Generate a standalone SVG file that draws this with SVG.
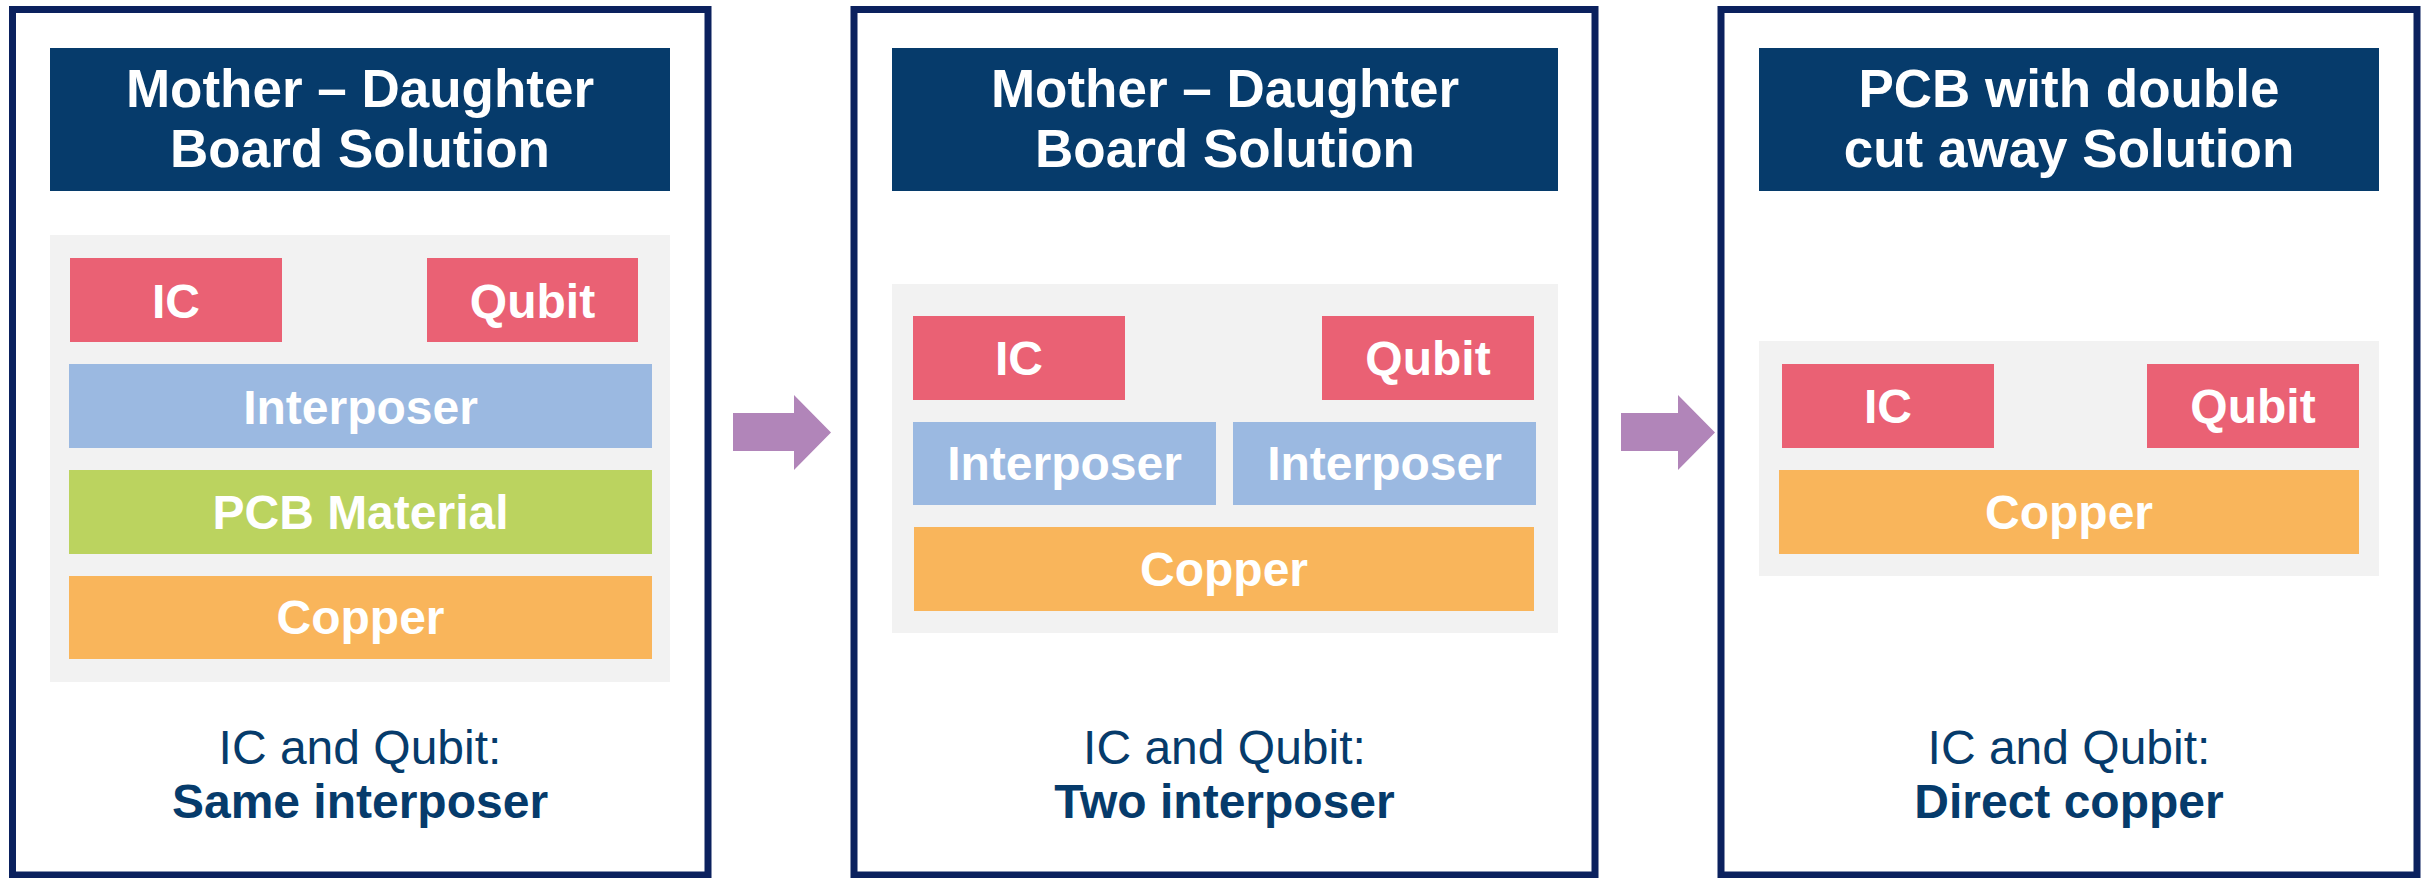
<svg xmlns="http://www.w3.org/2000/svg" width="2433" height="878" viewBox="0 0 2433 878">
  <style>
    .frame { fill: #ffffff; stroke: #0b215e; stroke-width: 7; }
    .title { fill: #063b6b; }
    .panel { fill: #f2f2f2; }
    .chip { fill: #ea6174; }
    .inter { fill: #9bb9e1; }
    .pcb { fill: #bbd35f; }
    .copper { fill: #f9b55b; }
    .arrow { fill: #b185b9; }
    text { font-family: "Liberation Sans", Arial, sans-serif; text-anchor: middle; }
    .ttl { fill: #ffffff; font-weight: bold; font-size: 53px; }
    .lbl { fill: #ffffff; font-weight: bold; font-size: 48px; }
    .cap { fill: #063b6b; font-size: 48px; }
    .capb { fill: #063b6b; font-size: 48px; font-weight: bold; }
  </style>

  <!-- Column 1: mother-daughter board, shared interposer -->
  <g id="col1">
    <rect class="frame" x="12.5" y="9.5" width="695.5" height="865.5"/>
    <g id="col1-title">
      <rect class="title" x="50" y="48" width="620" height="143"/>
      <text class="ttl" x="360" y="106.5">Mother – Daughter</text>
      <text class="ttl" x="360" y="166.5">Board Solution</text>
    </g>
    <rect class="panel" x="50" y="235" width="620" height="447"/>
    <g id="col1-ic">
      <rect class="chip" x="70" y="258" width="212" height="84"/>
      <text class="lbl" x="176" y="317.5">IC</text>
    </g>
    <g id="col1-qubit">
      <rect class="chip" x="427" y="258" width="211" height="84"/>
      <text class="lbl" x="532.5" y="317.5">Qubit</text>
    </g>
    <g id="col1-interposer">
      <rect class="inter" x="69" y="364" width="583" height="84"/>
      <text class="lbl" x="360.5" y="424">Interposer</text>
    </g>
    <g id="col1-pcb">
      <rect class="pcb" x="69" y="470" width="583" height="84"/>
      <text class="lbl" x="360.5" y="529">PCB Material</text>
    </g>
    <g id="col1-copper">
      <rect class="copper" x="69" y="576" width="583" height="83"/>
      <text class="lbl" x="360.5" y="634">Copper</text>
    </g>
    <g id="col1-note">
      <text class="cap" x="360" y="763.5">IC and Qubit:</text>
      <text class="capb" x="360" y="817.5">Same interposer</text>
    </g>
  </g>

  <!-- Column 2: mother-daughter board, two interposers -->
  <g id="col2">
    <rect class="frame" x="854" y="9.5" width="741" height="865.5"/>
    <g id="col2-title">
      <rect class="title" x="892" y="48" width="666" height="143"/>
      <text class="ttl" x="1225" y="106.5">Mother – Daughter</text>
      <text class="ttl" x="1225" y="166.5">Board Solution</text>
    </g>
    <rect class="panel" x="892" y="284" width="666" height="349"/>
    <g id="col2-ic">
      <rect class="chip" x="913" y="316" width="212" height="84"/>
      <text class="lbl" x="1019" y="375">IC</text>
    </g>
    <g id="col2-qubit">
      <rect class="chip" x="1322" y="316" width="212" height="84"/>
      <text class="lbl" x="1428" y="375">Qubit</text>
    </g>
    <g id="col2-interposer-a">
      <rect class="inter" x="913" y="422" width="303" height="83"/>
      <text class="lbl" x="1064.5" y="480">Interposer</text>
    </g>
    <g id="col2-interposer-b">
      <rect class="inter" x="1233" y="422" width="303" height="83"/>
      <text class="lbl" x="1384.5" y="480">Interposer</text>
    </g>
    <g id="col2-copper">
      <rect class="copper" x="914" y="527" width="620" height="84"/>
      <text class="lbl" x="1224" y="586">Copper</text>
    </g>
    <g id="col2-note">
      <text class="cap" x="1224.5" y="763.5">IC and Qubit:</text>
      <text class="capb" x="1224.5" y="817.5">Two interposer</text>
    </g>
  </g>

  <!-- Column 3: PCB with double cut-away -->
  <g id="col3">
    <rect class="frame" x="1721" y="9.5" width="696" height="865.5"/>
    <g id="col3-title">
      <rect class="title" x="1759" y="48" width="620" height="143"/>
      <text class="ttl" x="2069" y="106.5">PCB with double</text>
      <text class="ttl" x="2069" y="166.5">cut away Solution</text>
    </g>
    <rect class="panel" x="1759" y="341" width="620" height="235"/>
    <g id="col3-ic">
      <rect class="chip" x="1782" y="364" width="212" height="84"/>
      <text class="lbl" x="1888" y="423">IC</text>
    </g>
    <g id="col3-qubit">
      <rect class="chip" x="2147" y="364" width="212" height="84"/>
      <text class="lbl" x="2253" y="423">Qubit</text>
    </g>
    <g id="col3-copper">
      <rect class="copper" x="1779" y="470" width="580" height="84"/>
      <text class="lbl" x="2069" y="529">Copper</text>
    </g>
    <g id="col3-note">
      <text class="cap" x="2069" y="763.5">IC and Qubit:</text>
      <text class="capb" x="2069" y="817.5">Direct copper</text>
    </g>
  </g>

  <!-- Block arrows between columns -->
  <g id="connectors">
    <polygon class="arrow" points="733,413 794,413 794,395 831,432.5 794,470 794,451 733,451"/>
    <polygon class="arrow" points="1621,413 1678,413 1678,395 1715,432.5 1678,470 1678,451 1621,451"/>
  </g>
</svg>
